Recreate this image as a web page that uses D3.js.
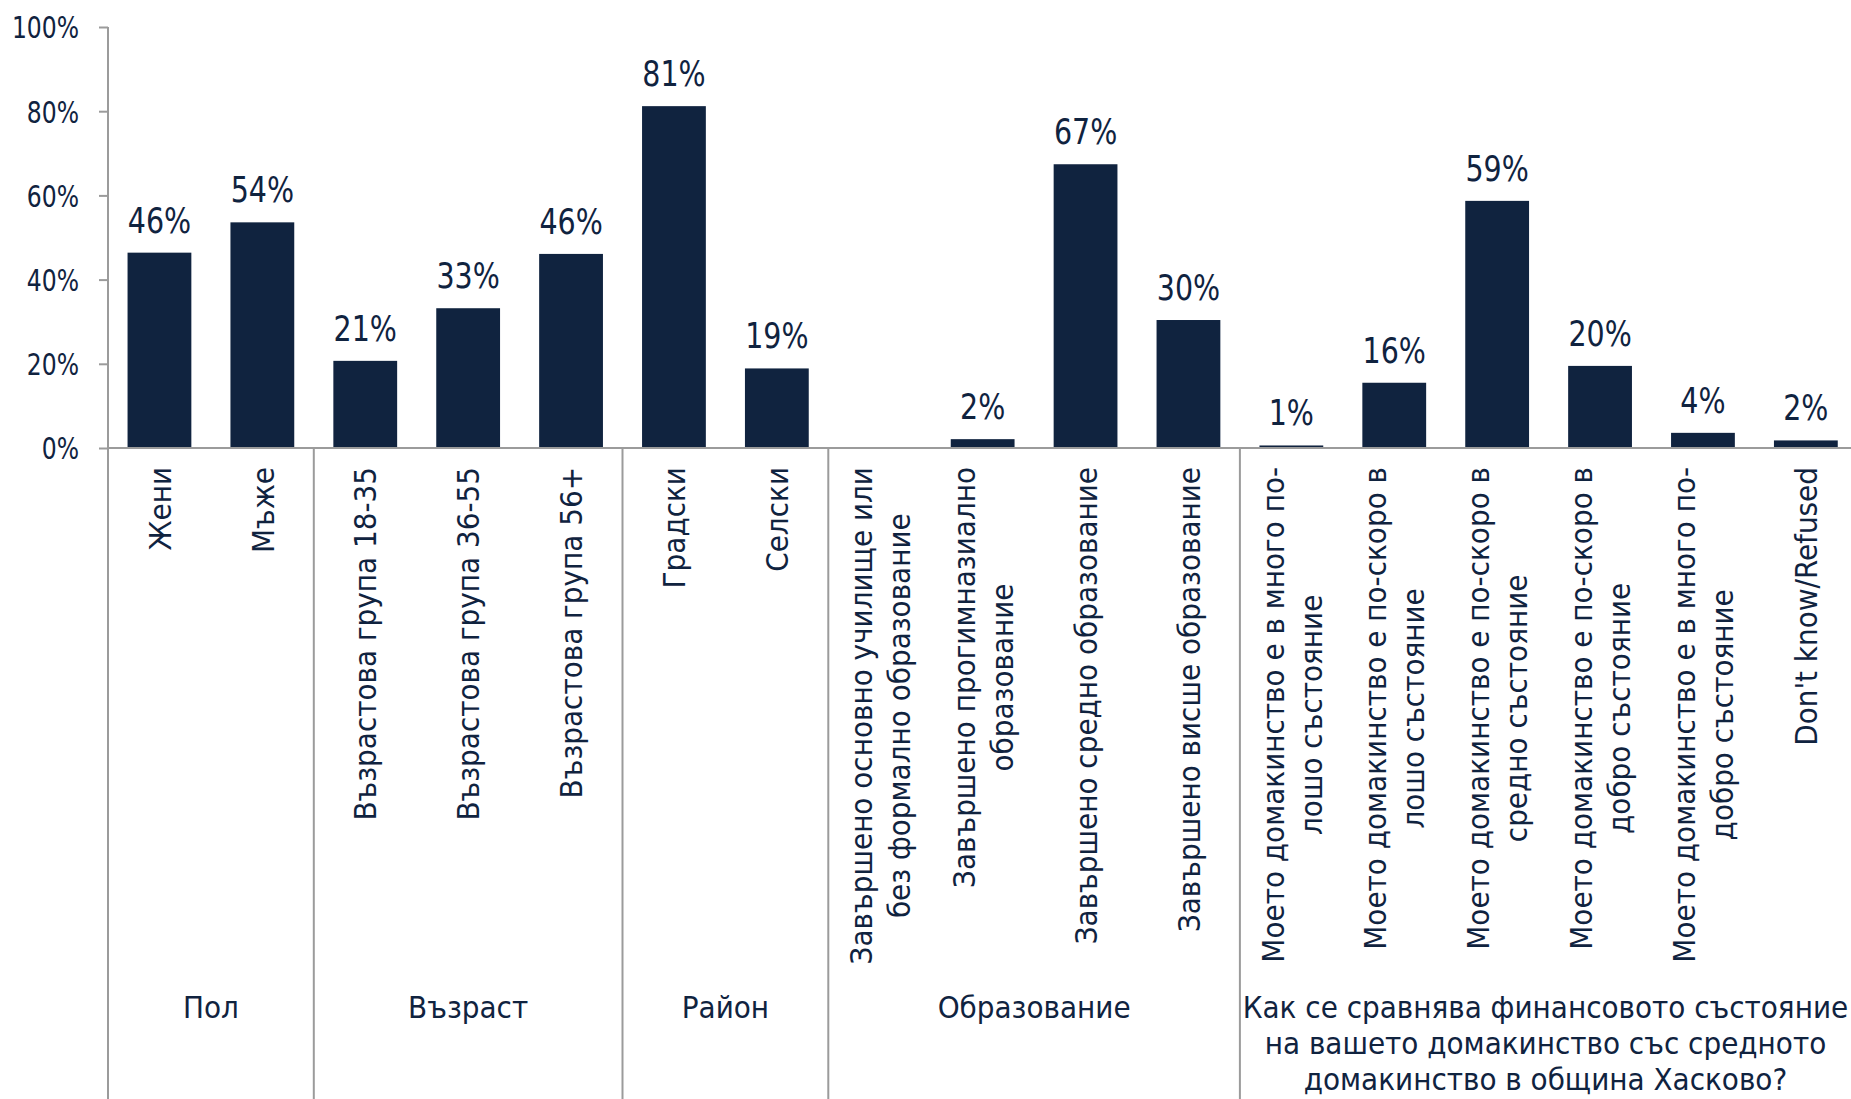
<!DOCTYPE html>
<html><head><meta charset="utf-8">
<script src="https://cdn.jsdelivr.net/npm/d3@7"></script>
<style>
body{margin:0;background:#fff;}
svg{display:block;}
text{font-family:"DejaVu Sans Condensed","DejaVu Sans",sans-serif;fill:#10233f;}
</style>
</head><body>
<svg id="chart" width="1851" height="1099"></svg>
<script>
// ---- data ----
const categories = [
  "Жени", "Мъже",
  "Възрастова група 18-35", "Възрастова група 36-55", "Възрастова група 56+",
  "Градски", "Селски",
  "Завършено основно училище или\nбез формално образование",
  "Завършено прогимназиално\nобразование",
  "Завършено средно образование",
  "Завършено висше образование",
  "Моето домакинство е в много по-\nлошо състояние",
  "Моето домакинство е по-скоро в\nлошо състояние",
  "Моето домакинство е по-скоро в\nсредно състояние",
  "Моето домакинство е по-скоро в\nдобро състояние",
  "Моето домакинство е в много по-\nдобро състояние",
  "Don't know/Refused"
];
const values = [46.4, 53.6, 20.7, 33.2, 46.1, 81.2, 18.9, 0, 2.1, 67.4, 30.4, 0.6, 15.5, 58.7, 19.5, 3.6, 1.8];
const groupNames = [
  "Пол", "Възраст", "Район", "Образование",
  "Как се сравнява финансовото състояние\nна вашето домакинство със средното\nдомакинство в община Хасково?"
];
const groupSizes = [2, 3, 2, 4, 6];
const yTicks = [0, 20, 40, 60, 80, 100];

// ---- layout ----
const W = 1851, H = 1099;
const plotLeft = 108, plotTop = 27, baseY = 448;
const step = 102.9;
const navy = "#10233f", gray = "#9b9b9b";
const FONT_TICK = 30, SX_TICK = 0.87;
const FONT_VAL = 36, SX_VAL = 0.88;
const FONT_CAT = 31, SX_CAT = 1.0, CAT_LH = 38;
const FONT_GRP = 31, SX_GRP = 1.0, GRP_LH = 36;

const svg = d3.select("#chart");

const x = d3.scaleBand()
  .domain(categories)
  .range([plotLeft, plotLeft + step * categories.length])
  .paddingInner(0.38).paddingOuter(0.19);
const y = d3.scaleLinear().domain([0, 100]).range([baseY, plotTop]);

// y axis
const yAxis = svg.append("g").attr("transform", `translate(${plotLeft},0)`)
  .call(d3.axisLeft(y).tickValues(yTicks).tickSize(9).tickSizeOuter(0)
    .tickFormat(d => d + "%"));
yAxis.select(".domain").remove();
yAxis.attr("font-family", null).attr("font-size", null);
yAxis.selectAll(".tick line").attr("stroke", gray).attr("stroke-width", 2);
yAxis.selectAll(".tick text")
  .attr("x", null).attr("dy", "0.36em")
  .attr("transform", `translate(-29,0) scale(${SX_TICK},1)`)
  .style("font-size", FONT_TICK + "px")
  .attr("fill", navy);

// vertical axis line (extends down as first separator)
svg.append("line").attr("x1", plotLeft).attr("x2", plotLeft).attr("y1", plotTop).attr("y2", H)
  .attr("stroke", gray).attr("stroke-width", 2);

// bars
svg.append("g").selectAll("rect").data(values).join("rect")
  .attr("x", (d, i) => x(categories[i]))
  .attr("width", x.bandwidth())
  .attr("y", d => y(d))
  .attr("height", d => baseY - y(d))
  .attr("fill", navy);

// horizontal axis
svg.append("line").attr("x1", plotLeft).attr("x2", W).attr("y1", baseY).attr("y2", baseY)
  .attr("stroke", gray).attr("stroke-width", 2);

// value labels
const valG = svg.append("g");
values.forEach((v, i) => {
  if (!(v > 0)) return;
  const cx = x(categories[i]) + x.bandwidth() / 2;
  valG.append("text")
    .attr("text-anchor", "middle")
    .attr("transform", `translate(${cx},${y(v) - 20}) scale(${SX_VAL},1)`)
    .style("font-size", FONT_VAL + "px")
    .text(Math.round(v) + "%");
});

// category labels (rotated)
const catG = svg.append("g");
categories.forEach((c, i) => {
  const lines = c.split("\n");
  const cx = x(c) + x.bandwidth() / 2;
  const g = catG.append("g");
  const texts = lines.map(ln => g.append("text")
    .attr("text-anchor", "middle").attr("dy", "0.36em")
    .style("font-size", FONT_CAT + "px").text(ln));
  const maxLen = d3.max(texts, t => t.node().getComputedTextLength()) * SX_CAT;
  const cy = 467 + maxLen / 2;
  texts.forEach((t, k) => {
    const lx = cx + (k - (lines.length - 1) / 2) * CAT_LH;
    t.attr("transform", `translate(${lx},${cy}) rotate(-90) scale(${SX_CAT},1)`);
  });
});

// group separators and labels
let acc = 0;
const grpG = svg.append("g");
groupNames.forEach((gname, gi) => {
  const x0 = plotLeft + acc * x.step();
  acc += groupSizes[gi];
  const x1 = plotLeft + acc * x.step();
  if (gi < groupNames.length - 1) {
    grpG.append("line").attr("x1", x1).attr("x2", x1).attr("y1", baseY).attr("y2", H)
      .attr("stroke", gray).attr("stroke-width", 2);
  }
  const gx = (x0 + Math.min(x1, W)) / 2;
  gname.split("\n").forEach((ln, k) => {
    grpG.append("text").attr("text-anchor", "middle")
      .attr("transform", `translate(${gx},${1018 + k * GRP_LH}) scale(${SX_GRP},1)`)
      .style("font-size", FONT_GRP + "px").text(ln);
  });
});
</script>
</body></html>
